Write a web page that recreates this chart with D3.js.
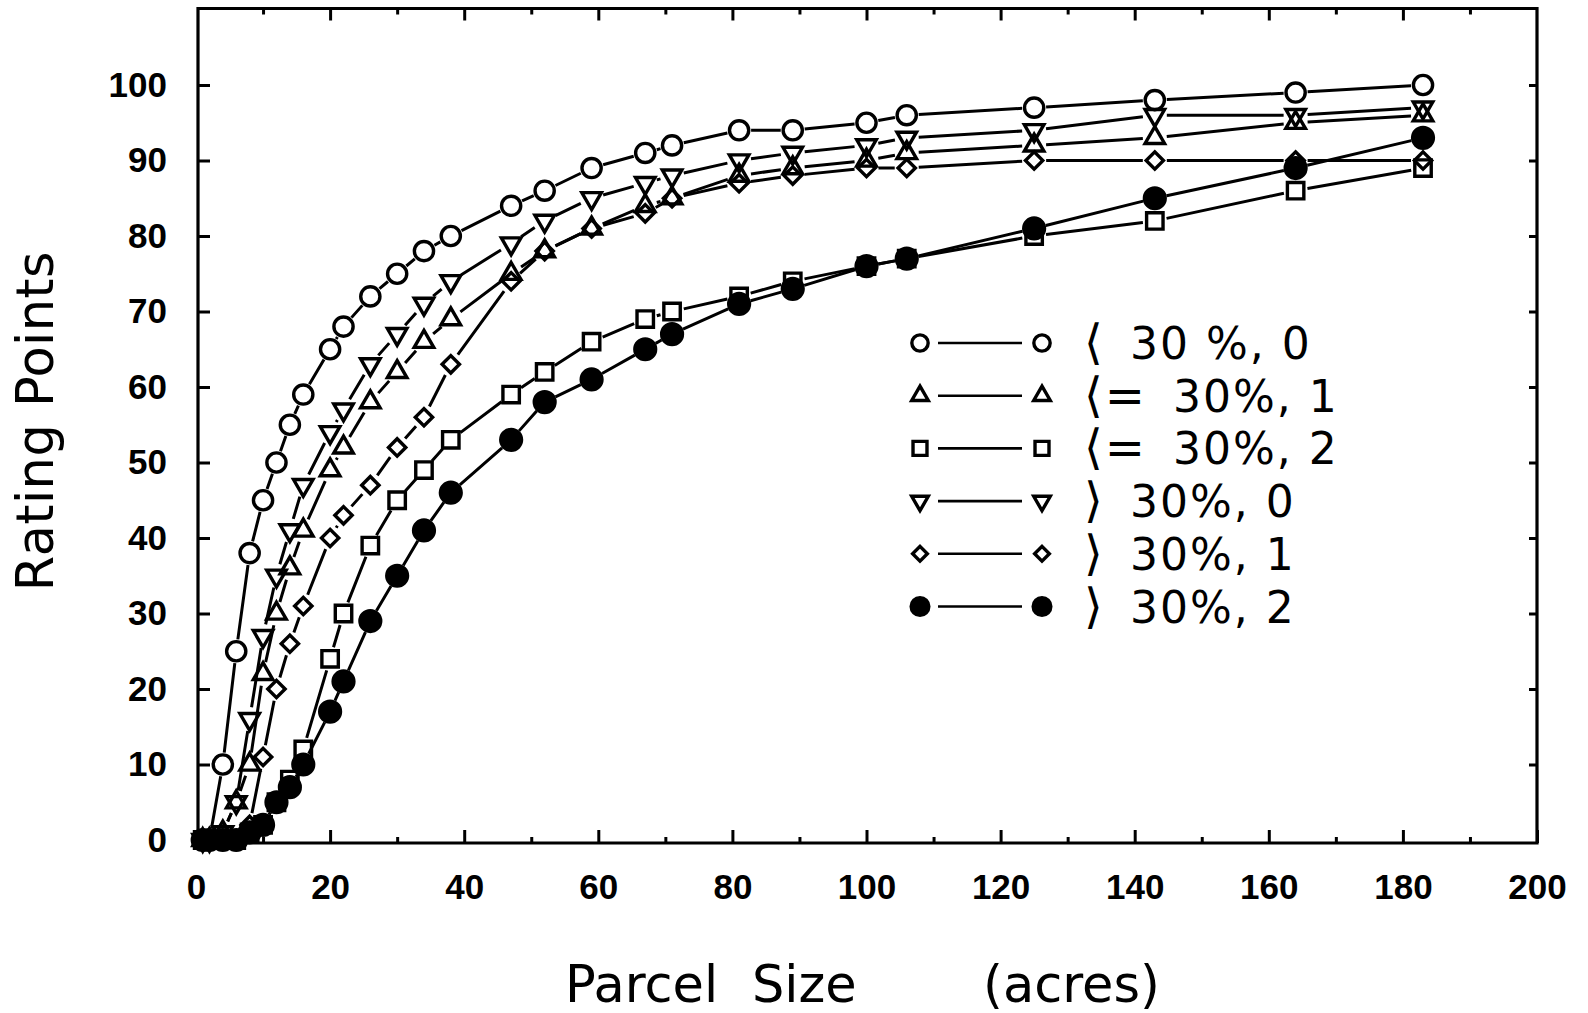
<!DOCTYPE html>
<html><head><meta charset="utf-8">
<script src="https://cdn.jsdelivr.net/npm/d3@7"></script>
<style>body{margin:0;background:#fff}svg{display:block}</style>
</head><body>
<svg id="c" width="1588" height="1013"></svg>
<script>
// ---- data ----
const parcelSizes = [1,2,4,6,8,10,12,14,16,20,22,26,30,34,38,47,52,59,67,71,81,89,100,106,125,143,164,183];
const lt30_0 = [0,0,10,25,38,45,50,55,59,65,68,72,75,78,80,84,86,89,91,92,94,94,95,96,97,98,99,100];
const le30_1 = [0,0,1,5,10,22,30,36,41,49,52,58,62,66,69,75,78,81,84,85,88,89,90,91,92,93,95,96];
const le30_2 = [0,0,0,0,1,2,5,8,12,24,30,39,45,49,53,59,62,66,69,70,72,74,76,77,80,82,86,89];
const gt30_0 = [0,0,1,5,16,27,35,41,47,54,57,63,67,71,74,79,82,85,87,88,90,91,92,93,94,96,96,97];
const gt30_1 = [0,0,0,0,2,11,20,26,31,40,43,47,52,56,63,74,78,81,83,85,87,88,89,89,90,90,90,90];
const gt30_2 = [0,0,0,0,1,2,5,7,10,17,21,29,35,41,46,53,58,61,65,67,71,73,76,77,81,85,89,93];
const seriesNames = ["⟨ 30 %, 0", "⟨= 30%, 1", "⟨= 30%, 2", "⟩ 30%, 0", "⟩ 30%, 1", "⟩ 30%, 2"];
const seriesMarkers = ["circle", "triangleUp", "square", "triangleDown", "diamond", "dot"];
const xTickLabels = [0,20,40,60,80,100,120,140,160,180,200];
const yTickLabels = [0,10,20,30,40,50,60,70,80,90,100];
const xTitle = ["Parcel", "Size", "(acres)"];
const yTitle = "Rating Points";

const seriesValues = [lt30_0, le30_1, le30_2, gt30_0, gt30_1, gt30_2];

// ---- layout ----
const svg = d3.select('#c');
const x = d3.scaleLinear().domain([0,200]).range([196,1537]);
const y = d3.scaleLinear().domain([0,110]).range([840,9.5]);
const frameL = 198, frameT = 8.5, frameR = 1537, frameB = 843;

svg.append('path')
  .attr('d', `M${frameL},${frameT}H${frameR}V${frameB}H${frameL}Z`)
  .attr('fill','none').attr('stroke','#000').attr('stroke-width',3.2);

function styleAxis(g){
  g.select('.domain').remove();
  g.selectAll('.tick line').attr('stroke','#000').attr('stroke-width',3);
  g.selectAll('.tick text').attr('fill','#000')
    .style('font-family','"Liberation Sans", Arial, sans-serif')
    .style('font-weight','bold').style('font-size','35px');
}
const minorX = d3.range(10,200,20);
svg.append('g').attr('transform',`translate(0,${frameB})`)
  .call(d3.axisBottom(x).tickValues(xTickLabels).tickSize(-13).tickPadding(31).tickFormat(d3.format('d')))
  .call(styleAxis);
svg.append('g').attr('transform',`translate(0,${frameB})`)
  .call(d3.axisBottom(x).tickValues(minorX).tickSize(-6).tickFormat(''))
  .call(styleAxis);
svg.append('g').attr('transform',`translate(0,${frameT})`)
  .call(d3.axisTop(x).tickValues(xTickLabels.slice(1,-1)).tickSize(-12).tickFormat(''))
  .call(styleAxis);
svg.append('g').attr('transform',`translate(0,${frameT})`)
  .call(d3.axisTop(x).tickValues(minorX).tickSize(-6).tickFormat(''))
  .call(styleAxis);
svg.append('g').attr('transform',`translate(${frameL},0)`)
  .call(d3.axisLeft(y).tickValues(yTickLabels).tickSize(-12).tickPadding(31).tickFormat(d3.format('d')))
  .call(styleAxis);
svg.append('g').attr('transform',`translate(${frameR},0)`)
  .call(d3.axisRight(y).tickValues(yTickLabels.slice(1)).tickSize(-8).tickFormat(''))
  .call(styleAxis);

function markerPath(kind){
  switch(kind){
    case 'circle': return d3.symbol(d3.symbolCircle, 290)();
    case 'dot': return d3.symbol(d3.symbolCircle, 340)();
    case 'triangleUp': case 'triangleDown': return d3.symbol(d3.symbolTriangle, 165)();
    case 'square': return d3.symbol(d3.symbolSquare, 270)();
    case 'diamond': return d3.symbol(d3.symbolSquare, 150)();
  }
}
function markerRot(kind){ return kind==='triangleDown'?180:(kind==='diamond'?45:0); }
function drawMarker(g, kind, px, py, scale){
  g.append('path').attr('d', markerPath(kind))
    .attr('transform',`translate(${px},${py}) rotate(${markerRot(kind)}) scale(${scale||1})`)
    .attr('fill', kind==='dot' ? '#000' : 'none')
    .attr('stroke','#000').attr('stroke-width',3.4/(scale||1));
}

const gap = 12;
seriesValues.forEach((vals, si) => {
  const pts = parcelSizes.map((p,i)=>[x(p), y(vals[i])]);
  const g = svg.append('g');
  let d = '';
  for(let i=0;i<pts.length-1;i++){
    const [x0,y0]=pts[i],[x1,y1]=pts[i+1];
    const L = Math.hypot(x1-x0,y1-y0);
    if(L <= 2*gap+1) continue;
    const ux=(x1-x0)/L, uy=(y1-y0)/L;
    d += `M${x0+ux*gap},${y0+uy*gap}L${x1-ux*gap},${y1-uy*gap}`;
  }
  g.append('path').attr('d',d).attr('fill','none').attr('stroke','#000').attr('stroke-width',3);
  pts.forEach(([px,py]) => drawMarker(g, seriesMarkers[si], px, py));
});

const lg = svg.append('g');
seriesNames.forEach((name, i) => {
  const cy = 343 + i*52.7;
  drawMarker(lg, seriesMarkers[i], 920, cy, 0.85);
  drawMarker(lg, seriesMarkers[i], 1042, cy, 0.85);
  lg.append('line').attr('x1',938).attr('x2',1022).attr('y1',cy).attr('y2',cy)
    .attr('stroke','#000').attr('stroke-width',2.6);
  const m = name.match(/^(\S+)\s+(.*)$/);
  const t = lg.append('text').attr('y', cy+16)
    .style('font-family','"DejaVu Sans", sans-serif').style('font-size','44px')
    .style('letter-spacing','2px').attr('fill','#000');
  t.append('tspan').attr('x',1084).style('font-size','48px').text(m[1] + ' ');
  t.append('tspan').attr('x', m[1].length>1 ? 1173 : 1130).text(m[2]);
});

const xt = svg.append('text').attr('y',1002)
  .style('font-family','"DejaVu Sans", sans-serif').style('font-size','51px').attr('fill','#000');
const xtPos = [565, 752, 983];
xTitle.forEach((w,i)=> xt.append('tspan').attr('x',xtPos[i]).text(w + (i<xTitle.length-1?' ':'')));
svg.append('text')
  .attr('transform','translate(53,421) rotate(-90)')
  .attr('text-anchor','middle')
  .style('font-family','"DejaVu Sans", sans-serif').style('font-size','51px')
  .style('letter-spacing','0.5px')
  .attr('fill','#000').text(yTitle);
</script>
</body></html>
